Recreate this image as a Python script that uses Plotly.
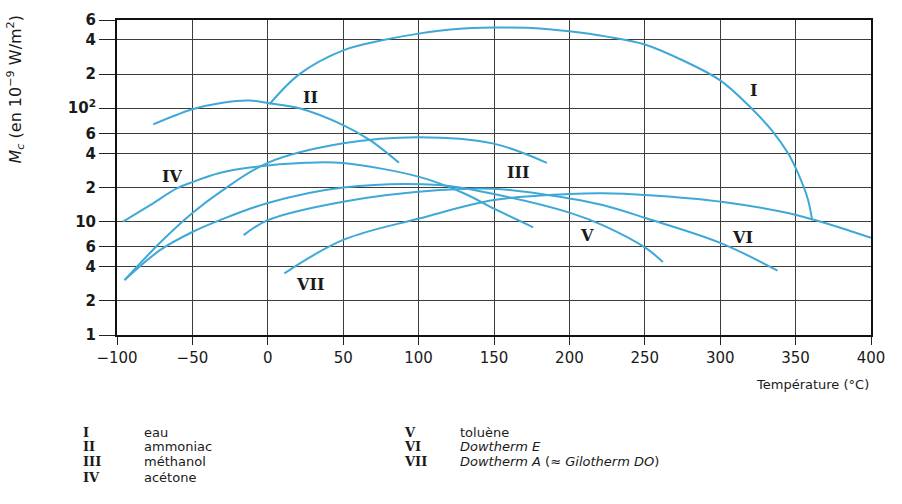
import math
import plotly.graph_objects as go

# Figure of merit M_c of heat-pipe working fluids versus temperature
t_eau = [1, 21, 50, 75, 100, 125, 150, 175, 200, 225, 250, 275, 300, 320, 335, 345, 352, 358, 361]
m_eau = [108, 200, 324, 395, 455, 500, 514, 510, 477, 428, 365, 265, 176, 102, 62, 40, 26, 16, 10.3]

t_ammoniac = [-76, -50, -30, -12, 0, 21, 50, 68, 87]
m_ammoniac = [72, 98, 112, 117, 111, 100, 71, 52, 33]

t_methanol = [-95, -71.5, -50, -31.7, 0, 50, 100, 149, 185]
m_methanol = [3.05, 6.5, 11.9, 18.2, 33, 49, 55.5, 49, 33]

t_acetone = [-96, -78, -60, -50, -32, -12, 25, 50, 101, 130, 150, 176]
m_acetone = [10, 14, 19.7, 22.3, 26.8, 30, 33, 32.8, 24.7, 17.8, 13, 8.9]

t_toluene = [-95, -71.5, -50, -31.7, 0, 50, 114, 150, 200, 222, 251, 262]
m_toluene = [3.05, 5.6, 8.1, 10.3, 14.6, 20, 21, 17.5, 12, 9.3, 5.8, 4.4]

t_dowtherm_e = [-16, 0, 50, 114, 150, 200, 222, 251, 300, 338]
m_dowtherm_e = [7.6, 10.3, 15, 19, 19.5, 16, 14, 10.7, 6.5, 3.7]

t_dowtherm_a = [11, 50, 101, 150, 200, 222, 253, 302, 351, 400]
m_dowtherm_a = [3.5, 6.9, 10.7, 15.5, 17.5, 17.8, 17.1, 14.9, 11.4, 7.2]

numerals = ["I", "II", "III", "IV", "V", "VI", "VII"]
fluids = ["eau", "ammoniac", "méthanol", "acétone", "toluène",
          "<i>Dowtherm E</i>", "<i>Dowtherm A</i> (≈ <i>Gilotherm DO</i>)"]

x_ticks = [-100, -50, 0, 50, 100, 150, 200, 250, 300, 350, 400]
x_labels = ["−100", "−50", "0", "50", "100", "150", "200", "250", "300", "350", "400"]
y_ticks = [1, 2, 4, 6, 10, 20, 40, 60, 100, 200, 400, 600]
y_labels = ["1", "2", "4", "6", "10", "2", "4", "6", "10<sup>2</sup>", "2", "4", "6"]

curves = [
    (t_eau, m_eau), (t_ammoniac, m_ammoniac), (t_methanol, m_methanol),
    (t_acetone, m_acetone), (t_toluene, m_toluene),
    (t_dowtherm_e, m_dowtherm_e), (t_dowtherm_a, m_dowtherm_a),
]

# where each roman numeral sits next to its curve (temperature, M_c)
numeral_pos = [(322, 144), (28, 125), (166, 27.3), (-63.5, 25.2),
               (211.7, 7.6), (314.5, 7.3), (28, 2.8)]

CURVE = "#3ea8d6"
INK = "#1a1a1a"
SANS = "DejaVu Sans"
SERIF = "DejaVu Serif"

fig = go.Figure()
for (t, m), name in zip(curves, numerals):
    fig.add_trace(go.Scatter(
        x=t, y=m, mode="lines", name=name,
        line=dict(color=CURVE, width=2, shape="spline", smoothing=1.0),
        hoverinfo="skip", showlegend=False,
    ))

annotations = []
for name, (tx, my) in zip(numerals, numeral_pos):
    # annotation positions on a log axis are given in log10 units
    annotations.append(dict(
        x=tx, y=math.log10(my), xref="x", yref="y", text=name, showarrow=False,
        font=dict(family=SERIF, size=16, color=INK, weight="bold"),
        xanchor="center", yanchor="middle",
    ))

# key below the chart, two columns
rows_y = [-0.308, -0.355, -0.402, -0.451]
for i, (num, fluid) in enumerate(zip(numerals, fluids)):
    col = 0 if i < 4 else 1
    row = i if i < 4 else i - 4
    nx = -0.0477 if col == 0 else 0.378
    fx = 0.0332 if col == 0 else 0.452
    annotations.append(dict(
        x=nx, y=rows_y[row], xref="paper", yref="paper", text=num,
        showarrow=False, xanchor="left", yanchor="middle",
        font=dict(family=SERIF, size=13, color=INK, weight="bold"),
    ))
    annotations.append(dict(
        x=fx, y=rows_y[row], xref="paper", yref="paper", text=fluid,
        showarrow=False, xanchor="left", yanchor="middle",
        font=dict(family=SANS, size=13, color=INK),
    ))

annotations.append(dict(
    x=1.0, y=-0.156, xref="paper", yref="paper", text="Température (°C)",
    showarrow=False, xanchor="right", yanchor="middle",
    font=dict(family=SANS, size=13, color=INK),
))
annotations.append(dict(
    x=-0.135, y=0.78, xref="paper", yref="paper",
    text="<i>M</i><sub><i>c</i></sub> (en 10<sup>−9</sup> W/m<sup>2</sup>)",
    showarrow=False, textangle=-90, xanchor="center", yanchor="middle",
    font=dict(family=SANS, size=16, color=INK),
))

fig.update_layout(
    width=902, height=504,
    margin=dict(l=117, r=31, t=20, b=169),
    paper_bgcolor="white", plot_bgcolor="white",
    annotations=annotations,
    xaxis=dict(
        range=[-100, 400], tickvals=x_ticks, ticktext=x_labels,
        showgrid=True, gridcolor="#3c3c3c", gridwidth=1.3,
        showline=True, linecolor="#111", linewidth=2, mirror=True,
        ticks="outside", ticklen=8, tickcolor="#222", tickwidth=1.3,
        tickfont=dict(family=SANS, size=15, color=INK), zeroline=False,
    ),
    yaxis=dict(
        type="log", range=[0, 2.77815], tickvals=y_ticks, ticktext=y_labels,
        showgrid=True, gridcolor="#3c3c3c", gridwidth=1.3,
        showline=True, linecolor="#111", linewidth=2, mirror=True,
        ticks="outside", ticklen=16, tickcolor="#222", tickwidth=1.3,
        tickfont=dict(family=SANS, size=15, color=INK, weight="bold"),
        zeroline=False,
    ),
)

fig.write_html("out.html")
